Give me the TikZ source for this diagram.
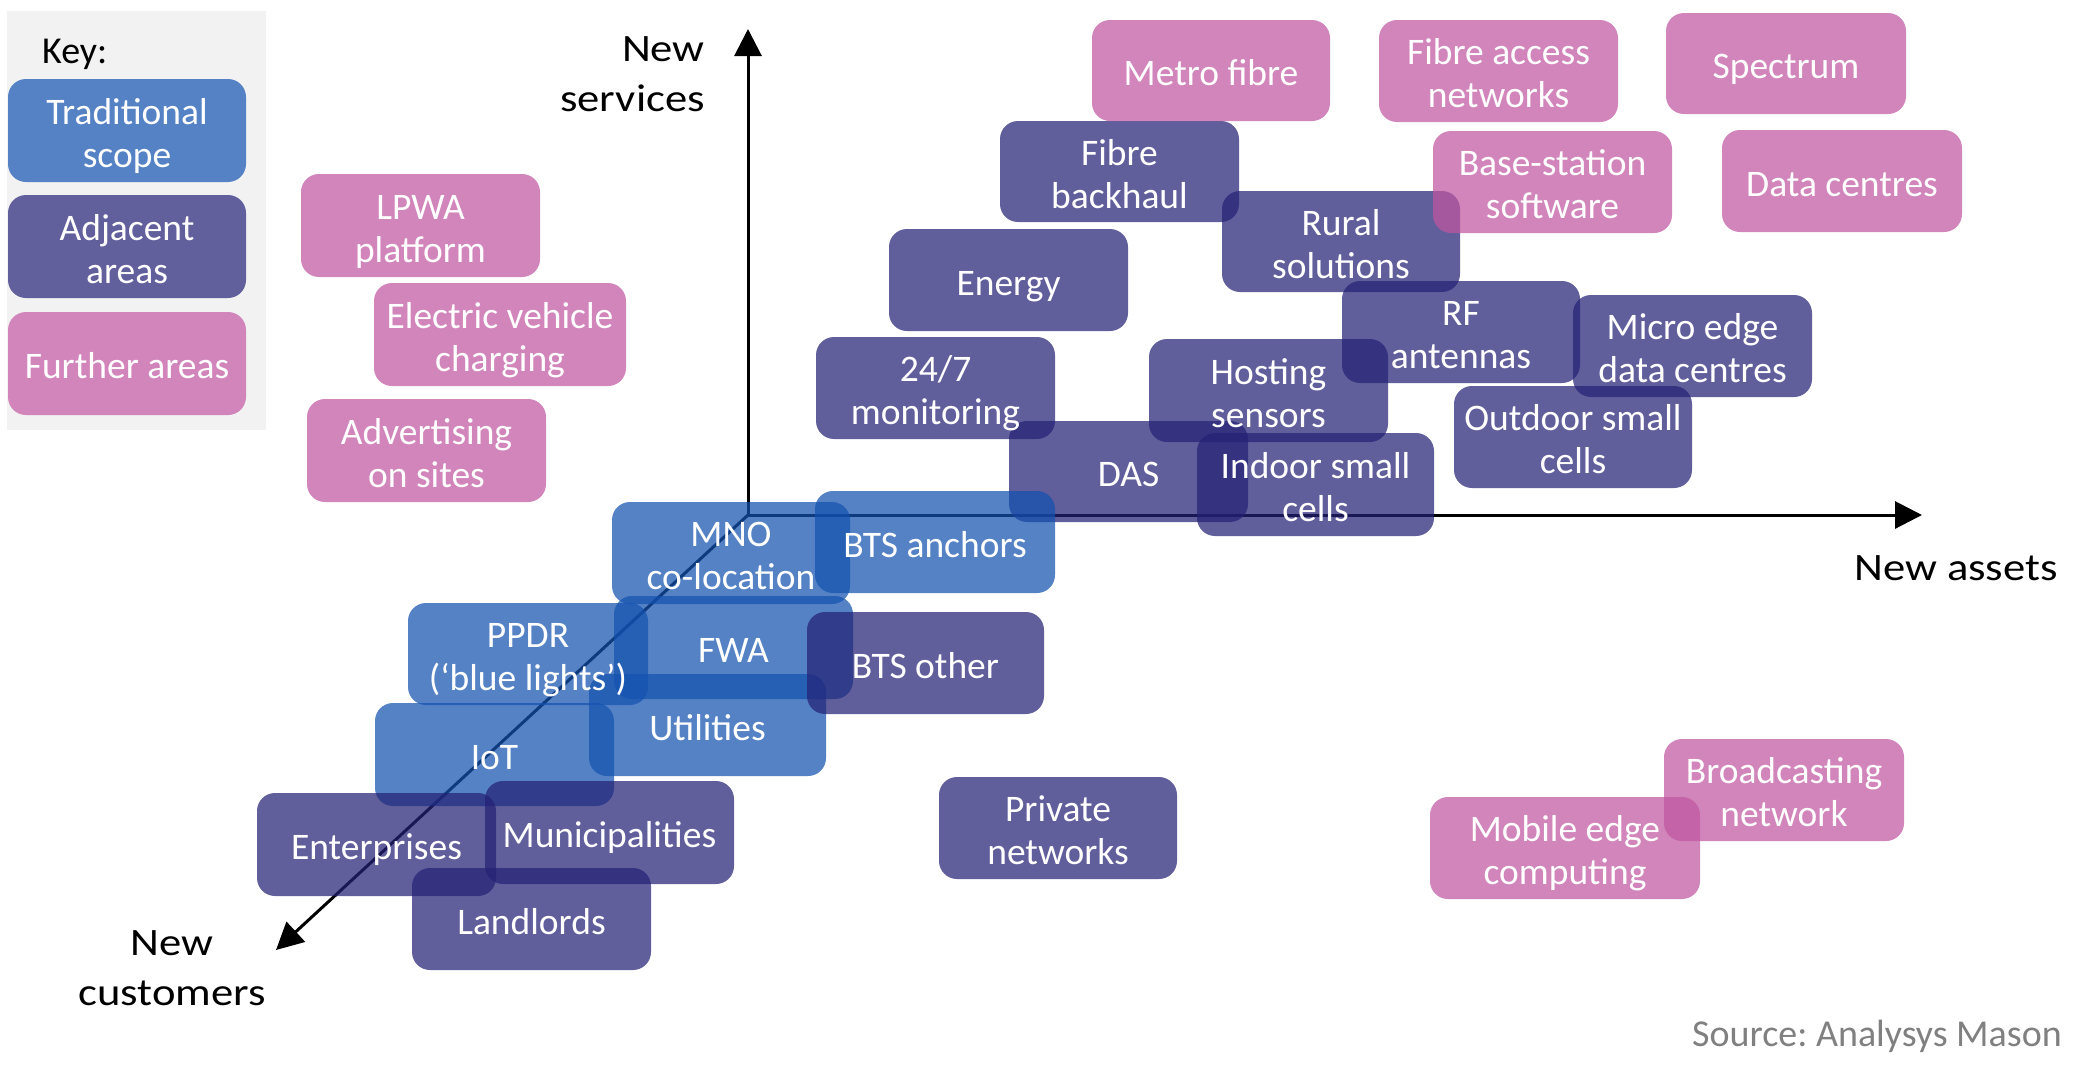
\documentclass[tikz,border=0pt]{standalone}
\usepackage{fontspec}
\setmainfont{Carlito}
\usetikzlibrary{arrows.meta}
\definecolor{tradc}{RGB}{19,82,175}
\definecolor{adjc}{RGB}{36,33,117}
\definecolor{furc}{RGB}{191,86,160}
\definecolor{keybg}{RGB}{242,242,242}
\definecolor{srcgrey}{RGB}{128,128,128}
\newcommand\bs{\rule[-6.5pt]{0pt}{43pt}}
\newcommand\two[2]{\bs#1\\\bs#2}
\newcommand\one[1]{\bs#1}
\newtoks\txtlist
% style, name, width, height, x, y, text
\newcommand\bx[7]{%
  \node[#1, minimum width=#3pt, minimum height=#4pt] (#2) at (#5,#6) {};%
  \global\txtlist=\expandafter{\the\txtlist \node[boxtext] (#2-t) at (#2.center) {#7};}}
\frenchspacing
\begin{document}
\begin{tikzpicture}[x=1pt,y=-1pt,
  box/.style={rounded corners=18pt, fill opacity=0.72, inner sep=0pt},
  boxtext/.style={text=white, align=center, inner sep=0pt, font=\fontsize{37.5}{43}\selectfont},
  trad/.style={box, fill=tradc},
  adj/.style={box, fill=adjc},
  fur/.style={box, fill=furc},
  keytrad/.style={box, fill opacity=1, fill=tradc!72!white},
  keyadj/.style={box, fill opacity=1, fill=adjc!72!white},
  keyfur/.style={box, fill opacity=1, fill=furc!72!white},
  axis/.style={line width=3pt, -{Triangle[length=27pt,width=27pt]}},
  axlabel/.style={font=\fontsize{38.8}{50}\selectfont\addfontfeatures{FakeStretch=1.15}, inner sep=0pt}
]
\useasboundingbox (0,0) rectangle (2098,1077);
% key
\node[fill=keybg, minimum width=259pt, minimum height=419pt, inner sep=0pt] (keybox) at (136.5,220.5) {};
\node[anchor=base west, inner sep=0pt, font=\fontsize{38}{43}\selectfont] (keylbl) at (42,63) {Key:};
\bx{keytrad}{k1}{238}{103}{127}{130.5}{\two{Traditional}{scope}}
\bx{keyadj}{k2}{238}{103}{127}{246.5}{\two{Adjacent}{areas}}
\bx{keyfur}{k3}{238}{103}{127}{363.5}{\one{Further areas}}
% axes
\coordinate (O) at (748,515);
\coordinate (ytip) at (748,29);
\coordinate (xtip) at (1922,515);
\coordinate (ztip) at (276,950);
\draw[axis] (O) -- (ytip);
\draw[axis] (O) -- (xtip);
\draw[axis] (O) -- (ztip);
\node[axlabel, anchor=base east] (ns1) at (705,61) {New};
\node[axlabel, anchor=base east] (ns2) at (705,111) {services};
\node[axlabel, anchor=base] (nc1) at (172,955) {New};
\node[axlabel, anchor=base] (nc2) at (172,1005) {customers};
\node[axlabel, anchor=base west] (na) at (1854,580) {New assets};
\node[anchor=base east, inner sep=0pt, text=srcgrey, font=\fontsize{38}{43}\selectfont] (src) at (2062,1046) {Source: Analysys Mason};
% adjacent (upper right)
\bx{adj}{fbh}{239}{101}{1119.5}{171.5}{\two{Fibre}{backhaul}}
\bx{adj}{rural}{238}{101}{1341}{241.5}{\two{Rural}{solutions}}
\bx{adj}{energy}{239}{102}{1008.5}{280}{\one{Energy}}
\bx{adj}{rf}{238}{102}{1461}{332}{\two{RF}{antennas}}
\bx{adj}{micro}{239}{102}{1692.5}{346}{\two{Micro edge}{data centres}}
\bx{adj}{mon}{239}{102}{935.5}{388}{\two{24/7}{monitoring}}
\bx{adj}{host}{239}{103}{1268.5}{390.5}{\two{Hosting}{sensors}}
\bx{adj}{outdoor}{238}{102}{1573}{437}{\two{Outdoor small}{cells}}
\bx{adj}{das}{239}{101}{1128.5}{471.5}{\one{DAS}}
\bx{adj}{indoor}{237}{103}{1315.5}{484.5}{\two{Indoor small}{cells}}
% traditional
\bx{trad}{mno}{238}{102}{731}{553}{\two{MNO}{co-location}}
\bx{trad}{btsa}{240}{102}{935}{542}{\one{BTS anchors}}
\bx{trad}{fwa}{239}{103}{733.5}{647.5}{\one{FWA}}
\bx{trad}{ppdr}{240}{102}{528}{654}{\two{PPDR}{(‘blue lights’)}}
\bx{trad}{util}{237}{102}{707.5}{725}{\one{Utilities}}
\bx{trad}{iot}{239}{103}{494.5}{754.5}{\one{IoT}}
% adjacent (lower)
\bx{adj}{btso}{237}{102}{925.5}{663}{\one{BTS other}}
\bx{adj}{priv}{238}{102}{1058}{828}{\two{Private}{networks}}
\bx{adj}{ent}{239}{103}{376.5}{844.5}{\one{Enterprises}}
\bx{adj}{muni}{249}{103}{609.5}{832.5}{\one{Municipalities}}
\bx{adj}{land}{239}{102}{531.5}{919}{\one{Landlords}}
% further
\bx{fur}{lpwa}{239}{103}{420.5}{225.5}{\two{LPWA}{platform}}
\bx{fur}{ev}{252}{103}{500}{334.5}{\two{Electric vehicle}{charging}}
\bx{fur}{adv}{239}{103}{426.5}{450.5}{\two{Advertising}{on sites}}
\bx{fur}{metro}{238}{101}{1211}{70.5}{\one{Metro fibre}}
\bx{fur}{fan}{239}{102}{1498.5}{71}{\two{Fibre access}{networks}}
\bx{fur}{spec}{240}{101}{1786}{63.5}{\one{Spectrum}}
\bx{fur}{bss}{239}{102}{1552.5}{182}{\two{Base-station}{software}}
\bx{fur}{dc}{240}{102}{1842}{181}{\one{Data centres}}
\bx{fur}{bcast}{240}{102}{1784}{790}{\two{Broadcasting}{network}}
\bx{fur}{mec}{270}{102}{1565}{848}{\two{Mobile edge}{computing}}
% all box texts on top
\the\txtlist
\end{tikzpicture}
\end{document}
